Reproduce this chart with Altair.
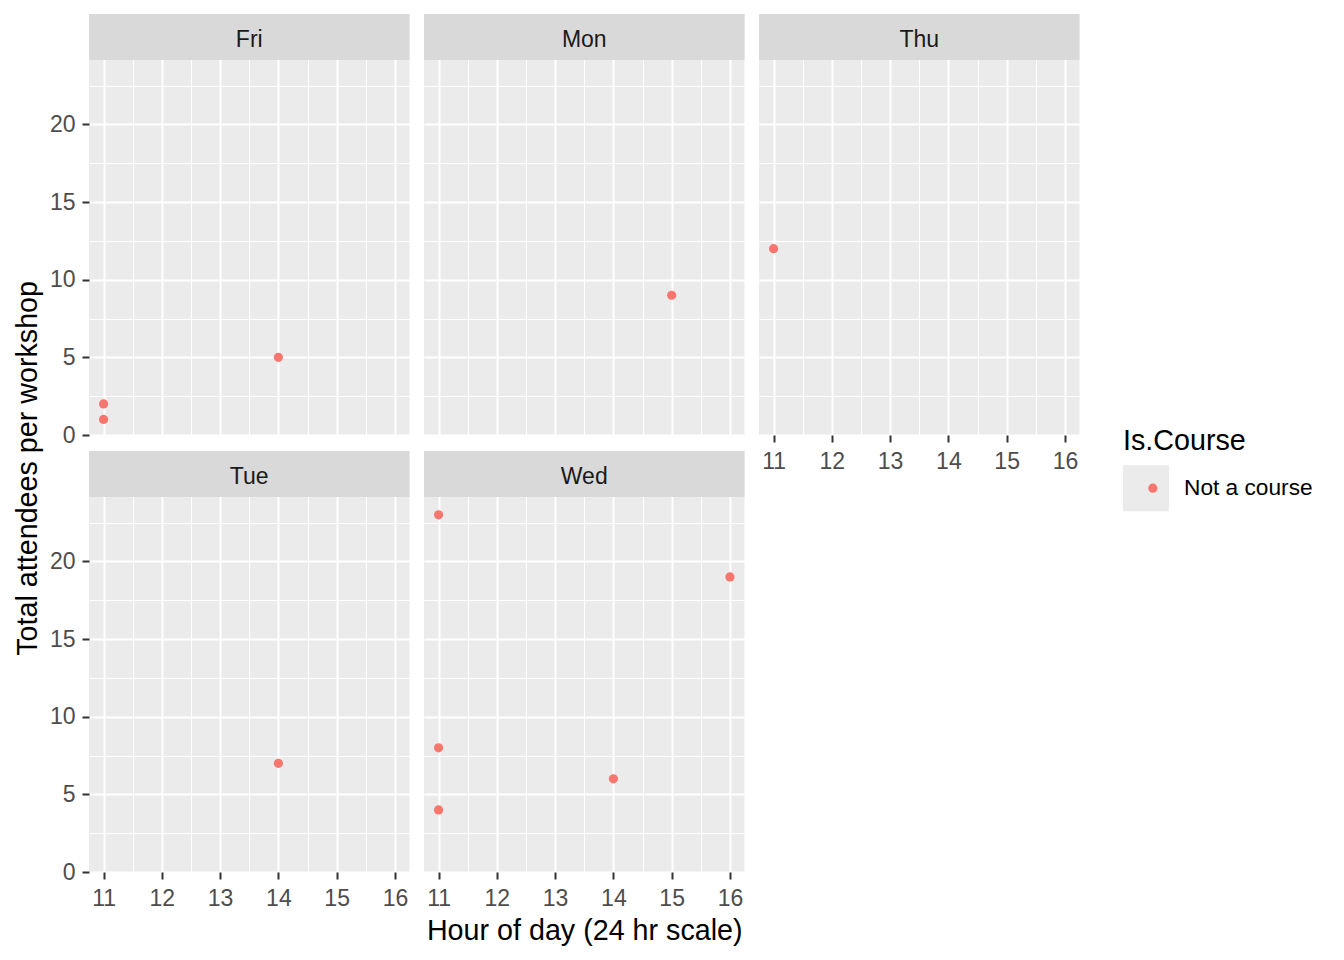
import altair as alt
import pandas as pd

# ---- data ----
days = ["Fri", "Fri", "Fri", "Mon", "Thu", "Tue", "Wed", "Wed", "Wed", "Wed", "Wed"]
hours = [11, 11, 14, 15, 11, 14, 11, 11, 11, 14, 16]
attendees = [2, 1, 5, 9, 12, 7, 23, 8, 4, 6, 19]
course = ["Not a course"] * len(days)

x_ticks = [11, 11.5, 12, 12.5, 13, 13.5, 14, 14.5, 15, 15.5, 16]
y_ticks = [0, 2.5, 5, 7.5, 10, 12.5, 15, 17.5, 20, 22.5]

df = pd.DataFrame({
    "day": days,
    "hour": hours,
    "attendees": attendees,
    "course": course,
    "key_bg": course,
})

FONT = "Liberation Sans"
W = 320.5
STRIP = 46
PANEL = 375
Y_MAX = 24.15
Y_TOP = Y_MAX * (PANEL + STRIP) / PANEL

LX, LY = 1034, 413
TP = 9.5
PT_SIZE = 85


def x_enc(show_labels, title=None):
    return alt.X(
        "hour:Q",
        scale=alt.Scale(domain=[10.75, 16.25], nice=False, zero=False),
        axis=alt.Axis(
            values=x_ticks, title=title, labels=show_labels, ticks=show_labels,
            labelOverlap=False, labelFlush=False,
            labelExpr="datum.value % 1 === 0 ? '' + datum.value : ''",
            gridWidth={"condition": {"test": "datum.value % 1 === 0", "value": 2}, "value": 1},
            tickColor={"condition": {"test": "datum.value % 1 === 0", "value": "#333333"}, "value": "transparent"},
            labelPadding=8, titlePadding=6,
            titleFont=FONT, titleFontSize=28.7, titleFontWeight="normal", titleColor="black",
        ),
    )


def y_enc(show_labels):
    return alt.Y(
        "attendees:Q",
        scale=alt.Scale(domain=[0, Y_TOP], nice=False, zero=False),
        axis=alt.Axis(
            values=y_ticks, title=None, labels=show_labels, ticks=show_labels,
            labelOverlap=False, labelFlush=False,
            labelExpr="datum.value % 5 === 0 ? '' + datum.value : ''",
            gridWidth={"condition": {"test": "datum.value % 5 === 0", "value": 2}, "value": 1},
            tickColor={"condition": {"test": "datum.value % 5 === 0", "value": "#333333"}, "value": "transparent"},
            labelPadding=7,
        ),
    )


def panel(day, show_y, show_x, x_title=None):
    base = alt.Chart(df).transform_filter(alt.datum.day == day)
    xe = x_enc(show_x, x_title)
    ye = y_enc(show_y)

    strip_rect = base.transform_aggregate(n="count()", groupby=["day"]).mark_rect(
        color="#D9D9D9"
    ).encode(
        x=alt.value(0), x2=alt.value(W), y=alt.value(0), y2=alt.value(STRIP)
    )
    strip_text = base.transform_aggregate(n="count()", groupby=["day"]).mark_text(
        font=FONT, fontSize=23, color="#1A1A1A", baseline="middle", align="center"
    ).encode(
        text="day:N", x=alt.value(W / 2), y=alt.value(STRIP / 2 + 3)
    )
    key_bg = base.mark_square(size=0, opacity=1).encode(
        x=xe, y=ye,
        fill=alt.Fill(
            "key_bg:N",
            scale=alt.Scale(range=["#EBEBEB"]),
            legend=alt.Legend(
                title="Is.Course", orient="none", legendX=LX, legendY=LY,
                symbolType="square", symbolSize=46 * 46, symbolStrokeWidth=0,
                labelOffset=15, titlePadding=TP, padding=0, zindex=0,
            ),
        ),
    )
    points = base.mark_circle(size=PT_SIZE, opacity=1).encode(
        x=xe, y=ye,
        color=alt.Color(
            "course:N",
            scale=alt.Scale(range=["#F8766D"]),
            legend=alt.Legend(
                title="Is.Course", orient="none", legendX=LX, legendY=LY,
                symbolType="circle", symbolSize=PT_SIZE, symbolStrokeWidth=0,
                symbolOffset=18.5, labelOffset=15, titlePadding=TP + 11.65,
                titleOpacity=0, labelExpr="''", padding=0, zindex=1,
            ),
        ),
    )
    return alt.layer(strip_rect, strip_text, key_bg, points).properties(
        width=W, height=STRIP + PANEL
    )


col1 = alt.vconcat(panel("Fri", True, False), panel("Tue", True, True),
                   spacing=16, bounds="flush")
col2 = alt.vconcat(panel("Mon", False, False),
                   panel("Wed", False, True, "Hour of day (24 hr scale)"),
                   spacing=16, bounds="flush")
col3 = panel("Thu", False, True)

chart = alt.hconcat(col1, col2, col3, spacing=14).resolve_scale(
    color="shared", fill="shared"
).resolve_legend(
    color="shared", fill="shared"
).properties(
    title=alt.TitleParams(
        "Total attendees per workshop", orient="left", anchor="middle",
        font=FONT, fontSize=28.7, fontWeight="normal", color="black",
        offset=7, dx=11,
    ),
    padding={"left": 5, "top": 6, "right": 5, "bottom": 5},
).configure_view(
    fill="#EBEBEB", stroke=None
).configure_axis(
    domain=False, gridColor="white", tickSize=7, tickWidth=2,
    labelFont=FONT, labelFontSize=23, labelColor="#4D4D4D",
).configure_legend(
    titleFont=FONT, titleFontSize=28.7, titleFontWeight="normal", titleColor="black",
    labelFont=FONT, labelFontSize=22.7, labelColor="black",
)

chart.save("out.html", embed_options={"renderer": "svg", "actions": False})
